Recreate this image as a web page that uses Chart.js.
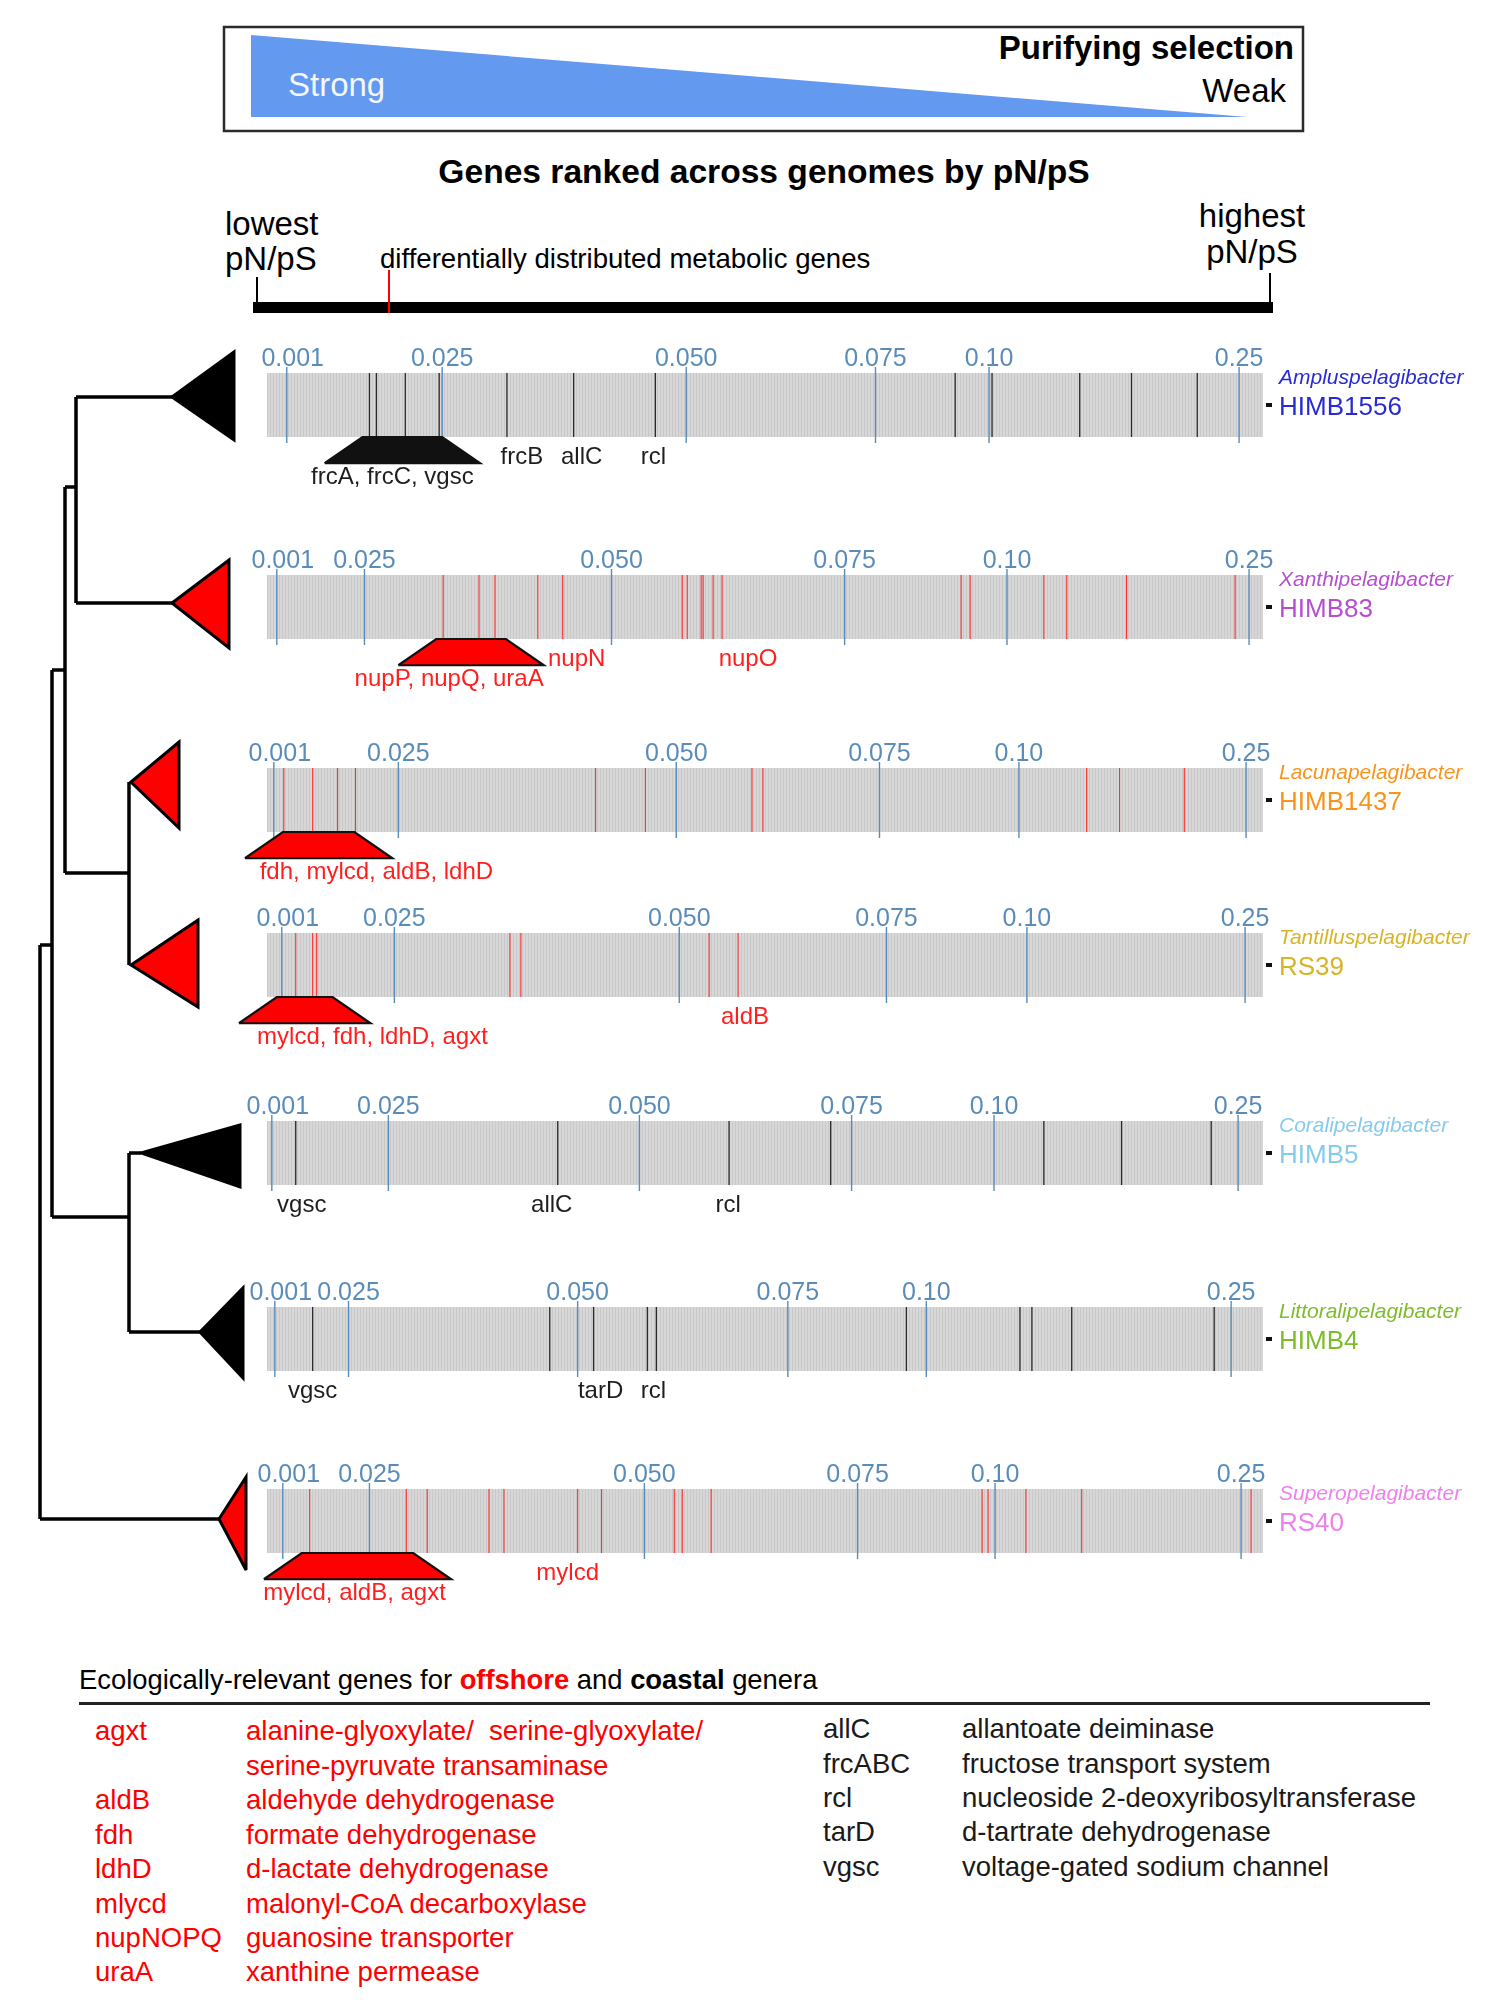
<!DOCTYPE html>
<html>
<head>
<meta charset="utf-8">
<script src="https://cdn.jsdelivr.net/npm/chart.js@4.4.1/dist/chart.umd.min.js"></script>
<style>
body { margin: 0; background: #fff; }
#page { position: relative; width: 1487px; height: 2000px; font-family: "Liberation Sans", Arial, Helvetica, sans-serif; }
#page svg, #page canvas { position: absolute; }
#art text { font-family: "Liberation Sans", Arial, Helvetica, sans-serif; }
</style>
</head>
<body>
<div id="page">
<svg id="art" width="1487" height="2000" style="left:0;top:0">
  <!-- header -->
  <rect x="224" y="27" width="1079" height="104" fill="none" stroke="#2b2b2b" stroke-width="2.5"/>
  <polygon points="251,35 251,117 1247,117" fill="#6399ee"/>
  <text x="288" y="96" font-size="33" fill="#f4f7ff">Strong</text>
  <text x="1294" y="59" font-size="33" font-weight="bold" text-anchor="end">Purifying selection</text>
  <text x="1286" y="102" font-size="33" text-anchor="end">Weak</text>
  <text x="764" y="183" font-size="33.6" font-weight="bold" text-anchor="middle">Genes ranked across genomes by pN/pS</text>
  <text x="225" y="235" font-size="33">lowest</text>
  <text x="225" y="270" font-size="33">pN/pS</text>
  <text x="1252" y="227" font-size="33" text-anchor="middle">highest</text>
  <text x="1252" y="263" font-size="33" text-anchor="middle">pN/pS</text>
  <text x="380" y="268" font-size="27.6">differentially distributed metabolic genes</text>
  <rect x="253" y="302" width="1020" height="11" fill="#000"/>
  <line x1="257" y1="277" x2="257" y2="304" stroke="#000" stroke-width="2"/>
  <line x1="1270" y1="273" x2="1270" y2="304" stroke="#000" stroke-width="2"/>
  <line x1="389" y1="270" x2="389" y2="313" stroke="#f00" stroke-width="2"/>

  <!-- tree -->
  <path fill="none" stroke="#000" stroke-width="3.5"
    d="M76 397H172 M76 603H172 M76 397V603 M65 487H76 M65 487V873 M65 873H129 M129 782V965
       M52 670H65 M52 670V1217 M52 1217H129 M129 1153V1332 M129 1153H141 M129 1332H200
       M40 945H52 M40 945V1519 M40 1519H219"/>
  <g stroke="#000" stroke-width="3" stroke-linejoin="miter">
    <polygon points="172,397 234,352 234,440" fill="#000"/>
    <polygon points="172,603 229,560 229,648" fill="#f00"/>
    <polygon points="131,782 179,742 179,828" fill="#f00"/>
    <polygon points="131,965 198,920 198,1007" fill="#f00"/>
    <polygon points="141,1153 240,1125 240,1187" fill="#000"/>
    <polygon points="200,1332 243,1288 243,1378" fill="#000"/>
    <polygon points="219,1519 246,1477 246,1570" fill="#f00"/>
  </g>

  <!-- legend -->
  <text x="79" y="1689" font-size="27.4">Ecologically-relevant genes for <tspan fill="#f00" font-weight="bold">offshore</tspan> and <tspan font-weight="bold">coastal</tspan> genera</text>
  <rect x="79" y="1702" width="1351" height="3" fill="#222"/>
  <g font-size="27.5" fill="#f00">
    <text x="95" y="1740">agxt</text>
    <text x="246" y="1740" style="white-space:pre">alanine-glyoxylate/  serine-glyoxylate/</text>
    <text x="246" y="1775">serine-pyruvate transaminase</text>
    <text x="95" y="1809">aldB</text><text x="246" y="1809">aldehyde dehydrogenase</text>
    <text x="95" y="1844">fdh</text><text x="246" y="1844">formate dehydrogenase</text>
    <text x="95" y="1878">ldhD</text><text x="246" y="1878">d-lactate dehydrogenase</text>
    <text x="95" y="1913">mlycd</text><text x="246" y="1913">malonyl-CoA decarboxylase</text>
    <text x="95" y="1947">nupNOPQ</text><text x="246" y="1947">guanosine transporter</text>
    <text x="95" y="1981">uraA</text><text x="246" y="1981">xanthine permease</text>
  </g>
  <g font-size="27.5" fill="#1a1a1a">
    <text x="823" y="1738">allC</text><text x="962" y="1738">allantoate deiminase</text>
    <text x="823" y="1773">frcABC</text><text x="962" y="1773">fructose transport system</text>
    <text x="823" y="1807">rcl</text><text x="962" y="1807">nucleoside 2-deoxyribosyltransferase</text>
    <text x="823" y="1841">tarD</text><text x="962" y="1841">d-tartrate dehydrogenase</text>
    <text x="823" y="1876">vgsc</text><text x="962" y="1876">voltage-gated sodium channel</text>
  </g>
</svg>
</div>
<script>
// genomes, top to bottom
const genomes = ['HIMB1556', 'HIMB83', 'HIMB1437', 'RS39', 'HIMB5', 'HIMB4', 'RS40']
const genera = ['Ampluspelagibacter', 'Xanthipelagibacter', 'Lacunapelagibacter', 'Tantilluspelagibacter',
    'Coralipelagibacter', 'Littoralipelagibacter', 'Superopelagibacter']
const generaColors = ['#2a2ad4', '#b64fcf', '#f7941d', '#d8b424', '#86cbec', '#7dbd2a', '#ee80ee']
const offshore = [false, true, true, true, false, false, true]

// pN/pS values marked on every strip, and the gene rank (per mille, lowest to highest pN/pS) where they fall
const pnpsLabels = ['0.001', '0.025', '0.050', '0.075', '0.10', '0.25']
const pnpsRanks = [
    [20, 176, 421, 611, 725, 976],
    [10, 98, 346, 580, 743, 986],
    [7, 132, 411, 615, 755, 983],
    [15, 128, 414, 622, 763, 982],
    [5, 122, 374, 587, 730, 975],
    [8, 82, 312, 523, 662, 968],
    [16, 103, 379, 593, 731, 978]
]

// ranks of the differentially distributed metabolic genes in each genome
const markedRanks = [
    [103, 110, 139, 173, 241, 308, 390, 691, 728, 816, 868, 934],
    [177, 213, 229, 272, 297, 417, 422, 436, 438, 448, 457, 697, 706, 780, 803, 863, 972],
    [17, 46, 71, 89, 330, 380, 487, 498, 823, 856, 921],
    [29, 46, 50, 244, 255, 444, 473],
    [29, 292, 464, 566, 780, 858, 948],
    [46, 284, 328, 382, 391, 642, 756, 768, 808, 951],
    [43, 140, 161, 223, 238, 312, 336, 409, 417, 446, 718, 724, 762, 818, 988]
]

// groups of named genes among the lowest ranks
const clusterGenes = ['frcA, frcC, vgsc', 'nupP, nupQ, uraA', 'fdh, mylcd, aldB, ldhD', 'mylcd, fdh, ldhD, agxt', null, null, 'mylcd, aldB, agxt']
const clusterStart = [96, 170, 16, 10, null, null, 35]
const clusterEnd = [176, 240, 88, 66, null, null, 147]
const clusterNameRank = [126, 183, 110, 106, null, null, 88]

// single named genes
const geneNames = [['frcB', 'allC', 'rcl'], ['nupN', 'nupO'], [], ['aldB'], ['vgsc', 'allC', 'rcl'], ['vgsc', 'tarD', 'rcl'], ['mylcd']]
const geneNameRanks = [[256, 316, 388], [311, 483], [], [480], [35, 286, 463], [46, 335, 388], [302]]

// layout
const FONT = '"Liberation Sans", Arial, Helvetica, sans-serif'
const STRIP_TOP = [373, 575, 768, 933, 1121, 1307, 1489]
const STRIP_H = 64, AXIS_H = 40, OVER = 6, CANVAS_H = 200, LEFT = 220
const X_MIN = -40, X_MAX = 1000
const FLARE = 38, TRAP_H = 0.41, FIRST_SHIFT = 6
const RED = '#ff1f1f', DARK = '#1e1e1e', BLUE = '#5a8cba'

function stripes() {
    let c = document.createElement('canvas')
    c.width = 3
    c.height = 8
    let g = c.getContext('2d')
    g.fillStyle = '#d7d7d7'
    g.fillRect(0, 0, 3, 8)
    g.fillStyle = '#c8c8c8'
    g.fillRect(2, 0, 1, 8)
    return g.createPattern(c, 'repeat')
}

function vlines(ranks, lo, hi) {
    let pts = []
    ranks.forEach(r => pts.push({ x: r, y: lo }, { x: r, y: hi }, { x: r, y: null }))
    return pts
}

const annotate = {
    id: 'annotate',
    afterDatasetsDraw(chart, args, opts) {
        const i = opts.row
        const ctx = chart.ctx, x = chart.scales.x, y = chart.scales.y
        const bottom = y.getPixelForValue(0), mid = y.getPixelForValue(0.5)
        const right = x.getPixelForValue(X_MAX)
        ctx.save()
        ctx.textAlign = 'center'
        ctx.textBaseline = 'alphabetic'
        ctx.fillStyle = offshore[i] ? RED : DARK
        ctx.font = '24px ' + FONT
        geneNames[i].forEach((name, k) => {
            ctx.fillText(name, x.getPixelForValue(geneNameRanks[i][k]), bottom + 27)
        })
        if (clusterGenes[i]) {
            ctx.fillText(clusterGenes[i], x.getPixelForValue(clusterNameRank[i]), bottom + 47)
        }
        // genome labels on the right
        ctx.fillStyle = '#111'
        ctx.fillRect(right + 3, mid - 2, 6, 4)
        ctx.textAlign = 'left'
        ctx.fillStyle = generaColors[i]
        ctx.font = 'italic 21px ' + FONT
        ctx.fillText(genera[i], right + 16, mid - 21)
        ctx.font = '26px ' + FONT
        ctx.fillText(genomes[i], right + 16, mid + 10)
        ctx.restore()
    }
}

const page = document.getElementById('page')
const pattern = stripes()

genomes.forEach((genome, i) => {
    let cv = document.createElement('canvas')
    cv.width = 1487 - LEFT
    cv.height = CANVAS_H
    cv.style.left = LEFT + 'px'
    cv.style.top = (STRIP_TOP[i] - OVER - AXIS_H) + 'px'
    page.appendChild(cv)

    const yMax = 1 + OVER / STRIP_H
    const yMin = yMax - (CANVAS_H - AXIS_H) / STRIP_H
    const markColor = offshore[i] ? '#ff3030' : '#2a2a2a'
    const fillColor = offshore[i] ? '#ff0000' : '#111111'

    let datasets = [
        {
            label: 'genes', data: [{ x: 0, y: 1 }, { x: X_MAX, y: 1 }],
            borderWidth: 0, pointRadius: 0, backgroundColor: pattern, fill: { value: 0 }, order: 9
        },
        {
            label: 'marked', data: vlines(markedRanks[i], 0, 1),
            borderColor: markColor, borderWidth: offshore[i] ? 1.1 : 1.3, pointRadius: 0, fill: false, order: 5
        },
        {
            label: 'pN/pS', data: vlines(pnpsRanks[i], -OVER / STRIP_H, 1 + OVER / STRIP_H),
            borderColor: BLUE, borderWidth: 1.4, pointRadius: 0, fill: false, order: 4
        }
    ]
    if (clusterGenes[i]) {
        let a = clusterStart[i], b = clusterEnd[i]
        datasets.push({
            label: 'cluster', data: [{ x: a - FLARE, y: -TRAP_H }, { x: a, y: 0 }, { x: b, y: 0 }, { x: b + FLARE, y: -TRAP_H }],
            borderWidth: 0, pointRadius: 0, backgroundColor: fillColor, fill: { value: -TRAP_H }, order: 3
        })
        datasets.push({
            label: 'outline', data: [{ x: a - FLARE, y: -TRAP_H }, { x: a, y: 0 }, { x: b, y: 0 }, { x: b + FLARE, y: -TRAP_H }, { x: a - FLARE, y: -TRAP_H }],
            borderColor: '#111', borderWidth: 2.2, pointRadius: 0, fill: false, order: 2
        })
    }

    new Chart(cv, {
        type: 'line',
        data: { datasets: datasets },
        options: {
            responsive: false,
            animation: false,
            events: [],
            layout: { padding: { left: 7, right: 224, top: 0, bottom: 0 } },
            elements: { line: { tension: 0 } },
            datasets: { line: { clip: false, spanGaps: false } },
            scales: {
                x: {
                    type: 'linear', position: 'top', min: X_MIN, max: X_MAX,
                    grid: { display: false, drawTicks: false },
                    border: { display: false },
                    // the first label sits a little right of its line, as in the figure
                    afterBuildTicks: axis => { axis.ticks = pnpsRanks[i].map((v, k) => ({ value: k === 0 ? v + FIRST_SHIFT : v })) },
                    afterFit: axis => { axis.height = AXIS_H },
                    ticks: {
                        autoSkip: false, maxRotation: 0, padding: -7, color: BLUE,
                        font: { family: FONT, size: 25 },
                        callback: (value, index) => pnpsLabels[index]
                    }
                },
                y: { type: 'linear', display: false, min: yMin, max: yMax }
            },
            plugins: {
                legend: { display: false },
                tooltip: { enabled: false },
                annotate: { row: i }
            }
        },
        plugins: [annotate]
    })
})
</script>
</body>
</html>
